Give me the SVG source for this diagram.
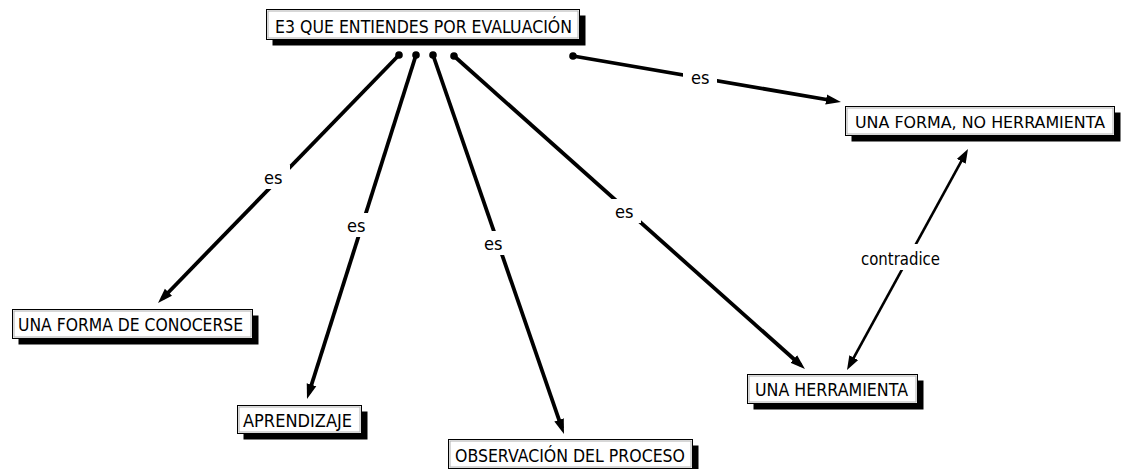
<svg xmlns="http://www.w3.org/2000/svg" width="1123" height="469" viewBox="0 0 1123 469">
<style>
.shadow{fill:#000}
.box{fill:#fff;stroke:#000;stroke-width:1}
.inner{fill:none;stroke:#b0b0b0;stroke-width:1}
.t{font-family:"DejaVu Sans","Liberation Sans",sans-serif;font-size:18px;fill:#000}
.conn{stroke:#000;stroke-width:3.8;fill:none;stroke-linecap:butt}
.conn2{stroke:#000;stroke-width:2.6;fill:none}
.lbg{fill:#fff}
</style>
<defs>
<marker id="ah" markerUnits="userSpaceOnUse" markerWidth="15" markerHeight="11" refX="9" refY="5.5" orient="auto">
<path d="M0,0.5 L15,5.5 L0,10.5 z" fill="#000"/>
</marker>
<marker id="ah2" markerUnits="userSpaceOnUse" markerWidth="14" markerHeight="11" refX="9" refY="5.5" orient="auto-start-reverse">
<path d="M0,0.5 L14,5.5 L0,10.5 z" fill="#000"/>
</marker>
</defs>
<rect width="1123" height="469" fill="#fff"/>
<g id="connectors">
<line class="conn" x1="399" y1="55" x2="162.2" y2="298.7" marker-end="url(#ah)"/>
<line class="conn" x1="416" y1="55" x2="308.8" y2="393.3" marker-end="url(#ah)"/>
<line class="conn" x1="433" y1="55" x2="562" y2="428.3" marker-end="url(#ah)"/>
<line class="conn" x1="454" y1="56" x2="800.5" y2="365" marker-end="url(#ah)"/>
<line class="conn" x1="573" y1="56" x2="835" y2="101" marker-end="url(#ah)"/>
<circle cx="399" cy="55" r="3.8"/>
<circle cx="416" cy="55" r="3.8"/>
<circle cx="433" cy="55" r="3.8"/>
<circle cx="454" cy="56" r="3.8"/>
<circle cx="573" cy="56" r="3.8"/>
<line class="conn2" x1="965.6" y1="153.4" x2="849.4" y2="365.6" marker-start="url(#ah2)" marker-end="url(#ah2)"/>
<rect class="lbg" x="256" y="165" width="34" height="24"/>
<text class="t" x="264" y="184" textLength="18.5" lengthAdjust="spacingAndGlyphs">es</text>
<rect class="lbg" x="339" y="213" width="34" height="24"/>
<text class="t" x="347" y="232" textLength="18.5" lengthAdjust="spacingAndGlyphs">es</text>
<rect class="lbg" x="476" y="231" width="34" height="24"/>
<text class="t" x="484" y="250" textLength="18.5" lengthAdjust="spacingAndGlyphs">es</text>
<rect class="lbg" x="607" y="199" width="34" height="24"/>
<text class="t" x="615" y="218" textLength="18.5" lengthAdjust="spacingAndGlyphs">es</text>
<rect class="lbg" x="683" y="65" width="34" height="24"/>
<text class="t" x="691" y="84" textLength="18.5" lengthAdjust="spacingAndGlyphs">es</text>
<rect class="lbg" x="853" y="244" width="95" height="26"/>
<text class="t" x="861" y="265" textLength="79" lengthAdjust="spacingAndGlyphs">contradice</text>
</g>
<g id="n-evaluacion">
<rect class="shadow" x="272.5" y="15.5" width="313" height="30"/>
<rect class="box" x="266.5" y="9.5" width="313" height="30"/>
<rect class="inner" x="268" y="11" width="310" height="27"/>
<text class="t" x="275" y="33" textLength="297" lengthAdjust="spacingAndGlyphs">E3 QUE ENTIENDES POR EVALUACIÓN</text>
</g>
<g id="n-forma-no-herramienta">
<rect class="shadow" x="851.5" y="112.5" width="269" height="29"/>
<rect class="box" x="845.5" y="106.5" width="269" height="29"/>
<rect class="inner" x="847" y="108" width="266" height="26"/>
<text class="t" x="855" y="128" style="font-size:16px" textLength="250" lengthAdjust="spacingAndGlyphs">UNA FORMA, NO HERRAMIENTA</text>
</g>
<g id="n-conocerse">
<rect class="shadow" x="18.5" y="315.5" width="240" height="29"/>
<rect class="box" x="12.5" y="309.5" width="240" height="29"/>
<rect class="inner" x="14" y="311" width="237" height="26"/>
<text class="t" x="18" y="331" textLength="225" lengthAdjust="spacingAndGlyphs">UNA FORMA DE CONOCERSE</text>
</g>
<g id="n-aprendizaje">
<rect class="shadow" x="243.5" y="411.5" width="124" height="28"/>
<rect class="box" x="237.5" y="405.5" width="124" height="28"/>
<rect class="inner" x="239" y="407" width="121" height="25"/>
<text class="t" x="243" y="427" textLength="109" lengthAdjust="spacingAndGlyphs">APRENDIZAJE</text>
</g>
<g id="n-observacion">
<rect class="shadow" x="454.5" y="445.5" width="244" height="29"/>
<rect class="box" x="448.5" y="439.5" width="244" height="29"/>
<rect class="inner" x="450" y="441" width="241" height="26"/>
<text class="t" x="455" y="462" textLength="230" lengthAdjust="spacingAndGlyphs">OBSERVACIÓN DEL PROCESO</text>
</g>
<g id="n-herramienta">
<rect class="shadow" x="753.5" y="380.5" width="170" height="29"/>
<rect class="box" x="747.5" y="374.5" width="170" height="29"/>
<rect class="inner" x="749" y="376" width="167" height="26"/>
<text class="t" x="755" y="396" textLength="153" lengthAdjust="spacingAndGlyphs">UNA HERRAMIENTA</text>
</g>
</svg>
